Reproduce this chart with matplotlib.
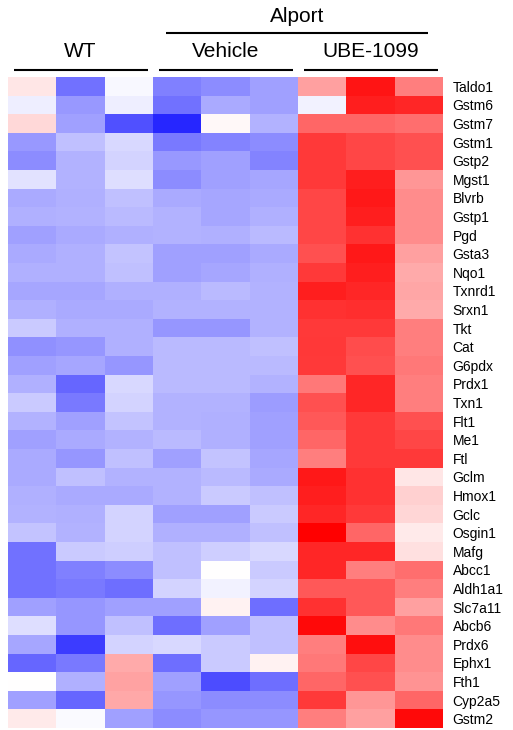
import numpy as np
import matplotlib
matplotlib.use("Agg")
import matplotlib.pyplot as plt

# === DATA: relative expression (z-score like, -1 = blue, +1 = red) ===
genes = ["Taldo1", "Gstm6", "Gstm7", "Gstm1", "Gstp2", "Mgst1", "Blvrb", "Gstp1",
         "Pgd", "Gsta3", "Nqo1", "Txnrd1", "Srxn1", "Tkt", "Cat", "G6pdx", "Prdx1",
         "Txn1", "Flt1", "Me1", "Ftl", "Gclm", "Hmox1", "Gclc", "Osgin1", "Mafg",
         "Abcc1", "Aldh1a1", "Slc7a11", "Abcb6", "Prdx6", "Ephx1", "Fth1", "Cyp2a5",
         "Gstm2"]

# columns: WT x3, Alport Vehicle x3, Alport UBE-1099 x3
wt = [
    [0.10, -0.55, -0.03], [-0.07, -0.40, -0.07], [0.15, -0.37, -0.68],
    [-0.40, -0.25, -0.15], [-0.45, -0.30, -0.17], [-0.11, -0.30, -0.13],
    [-0.33, -0.31, -0.25], [-0.31, -0.30, -0.27], [-0.37, -0.33, -0.31],
    [-0.33, -0.31, -0.23], [-0.31, -0.31, -0.25], [-0.35, -0.35, -0.31],
    [-0.31, -0.33, -0.33], [-0.21, -0.31, -0.31], [-0.43, -0.41, -0.31],
    [-0.37, -0.35, -0.41], [-0.31, -0.60, -0.15], [-0.21, -0.52, -0.17],
    [-0.30, -0.37, -0.23], [-0.37, -0.33, -0.30], [-0.33, -0.41, -0.25],
    [-0.33, -0.25, -0.30], [-0.31, -0.33, -0.33], [-0.30, -0.31, -0.17],
    [-0.23, -0.30, -0.17], [-0.55, -0.21, -0.19], [-0.55, -0.50, -0.45],
    [-0.55, -0.52, -0.57], [-0.37, -0.41, -0.37], [-0.13, -0.41, -0.25],
    [-0.35, -0.76, -0.17], [-0.60, -0.52, 0.33], [0.00, -0.31, 0.36],
    [-0.37, -0.60, 0.34], [0.08, -0.02, -0.37],
]
vehicle = [
    [-0.50, -0.45, -0.37], [-0.55, -0.33, -0.37], [-0.85, 0.03, -0.30],
    [-0.52, -0.48, -0.45], [-0.40, -0.37, -0.48], [-0.45, -0.37, -0.35],
    [-0.33, -0.35, -0.33], [-0.30, -0.35, -0.31], [-0.30, -0.31, -0.27],
    [-0.37, -0.37, -0.33], [-0.37, -0.35, -0.31], [-0.31, -0.27, -0.30],
    [-0.30, -0.30, -0.30], [-0.41, -0.41, -0.30], [-0.27, -0.27, -0.25],
    [-0.27, -0.27, -0.27], [-0.27, -0.27, -0.30], [-0.30, -0.30, -0.39],
    [-0.30, -0.31, -0.37], [-0.27, -0.31, -0.37], [-0.37, -0.23, -0.35],
    [-0.30, -0.27, -0.33], [-0.30, -0.21, -0.25], [-0.37, -0.37, -0.21],
    [-0.31, -0.31, -0.25], [-0.25, -0.19, -0.15], [-0.25, 0.00, -0.21],
    [-0.17, -0.05, -0.17], [-0.37, 0.05, -0.57], [-0.57, -0.37, -0.25],
    [-0.15, -0.21, -0.25], [-0.57, -0.21, 0.05], [-0.37, -0.70, -0.57],
    [-0.41, -0.45, -0.45], [-0.45, -0.41, -0.41],
]
ube1099 = [
    [0.37, 0.92, 0.50], [-0.05, 0.88, 0.85], [0.60, 0.60, 0.57],
    [0.77, 0.72, 0.68], [0.77, 0.72, 0.68], [0.77, 0.88, 0.41],
    [0.72, 0.90, 0.45], [0.72, 0.88, 0.45], [0.72, 0.80, 0.45],
    [0.68, 0.90, 0.37], [0.77, 0.88, 0.33], [0.88, 0.85, 0.35],
    [0.80, 0.82, 0.33], [0.77, 0.77, 0.50], [0.78, 0.70, 0.50],
    [0.77, 0.68, 0.53], [0.53, 0.85, 0.50], [0.68, 0.85, 0.50],
    [0.65, 0.77, 0.68], [0.60, 0.77, 0.72], [0.50, 0.77, 0.77],
    [0.90, 0.80, 0.10], [0.88, 0.80, 0.18], [0.85, 0.77, 0.16],
    [1.00, 0.60, 0.08], [0.85, 0.85, 0.12], [0.85, 0.50, 0.57],
    [0.65, 0.65, 0.50], [0.80, 0.65, 0.37], [0.96, 0.45, 0.53],
    [0.50, 0.94, 0.45], [0.53, 0.72, 0.45], [0.60, 0.68, 0.42],
    [0.77, 0.41, 0.60], [0.50, 0.37, 0.96],
]

group_names = ["WT", "Vehicle", "UBE-1099"]
super_group = "Alport"

# === BUILD THE MATRIX ===
values = np.hstack([np.array(wt), np.array(vehicle), np.array(ube1099)])
n_rows, n_cols = values.shape

# === FIGURE ===
fig = plt.figure(figsize=(5.13, 7.30), dpi=100)
ax = fig.add_axes([8 / 513, 2 / 730, 435 / 513, 651 / 730])

ax.imshow(values, cmap="bwr", vmin=-1, vmax=1, aspect="auto",
          interpolation="nearest")

# gene labels on the right
ax.yaxis.tick_right()
ax.set_yticks(range(n_rows))
ax.set_yticklabels(genes, fontsize=10, family="Liberation Sans")
ax.tick_params(axis="y", length=0, pad=7)
ax.set_xticks([])
for s in ax.spines.values():
    s.set_visible(False)

# group headers with underlines
for i, name in enumerate(group_names):
    x0 = i * 3 - 0.5
    ax.plot([x0 + 0.12, x0 + 2.9], [-0.88, -0.88], color="black", lw=1.5,
            clip_on=False, solid_capstyle="butt")
    ax.text(x0 + 1.5, -1.85, name, ha="center", va="center", fontsize=15,
            family="Liberation Sans")

# Alport over Vehicle + UBE-1099
ax.plot([2.77, 8.19], [-2.87, -2.87], color="black", lw=1.5, clip_on=False,
        solid_capstyle="butt")
ax.text(5.48, -3.75, super_group, ha="center", va="center", fontsize=15,
        family="Liberation Sans")

# keep the heatmap filling the axes (the header lines would stretch it)
ax.set_xlim(-0.5, n_cols - 0.5)
ax.set_ylim(n_rows - 0.5, -0.5)

fig.savefig("out.png", dpi=100)
